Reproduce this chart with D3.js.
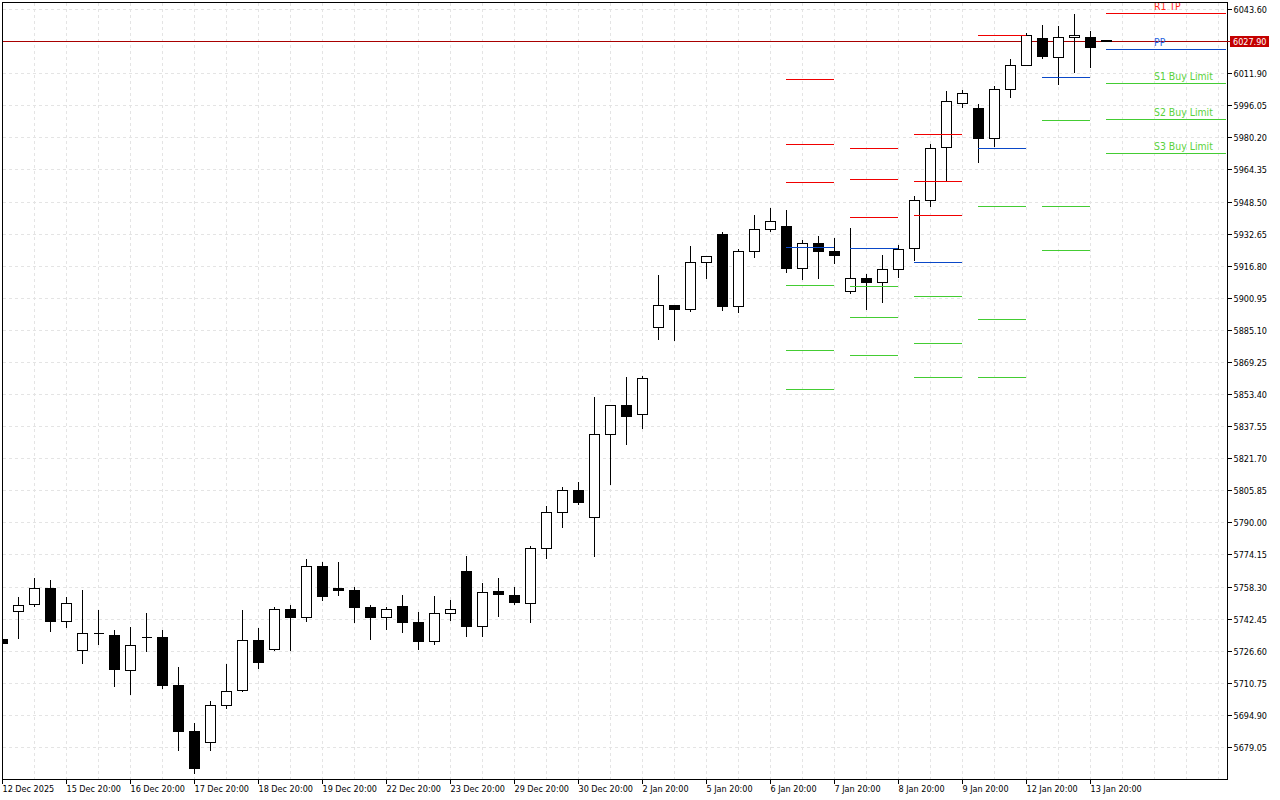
<!DOCTYPE html>
<html>
  <head>
    <meta charset="utf-8" />
    <script src="https://cdn.jsdelivr.net/npm/d3@7/dist/d3.min.js"></script>
    <style>
      body {
        margin: 0;
        background: #fff;
      }
      svg {
        display: block;
      }
      text {
        font-family: "DejaVu Sans Condensed", "DejaVu Sans", sans-serif;
        font-stretch: condensed;
      }
    </style>
  </head>
  <body>
    <svg id="chart" width="1280" height="800"></svg>
    <script>
      // candles, one per 6h bar, oldest first
      const opens = [
        5732.4, 5746.3, 5749.8, 5757.7, 5741.4, 5727.1, 5735.5, 5734.5, 5717.2, 5733.5,
        5733.5, 5709.8, 5687.1, 5681.6, 5699.9, 5707.1, 5732.0, 5727.6, 5747.3, 5743.4,
        5768.6, 5757.7, 5756.7, 5748.3, 5743.2, 5748.8, 5740.9, 5731.2, 5745.3, 5766.2,
        5738.9, 5755.9, 5753.9, 5750.3, 5777.5, 5795.2, 5806.1, 5792.8, 5833.8, 5848.1,
        5843.6, 5886.6, 5897.5, 5895.5, 5918.7, 5932.6, 5897.0, 5924.2, 5935.0, 5936.5,
        5915.8, 5928.1, 5924.2, 5904.4, 5910.8, 5908.9, 5915.3, 5925.6, 5949.4, 5975.5,
        5997.3, 5994.5, 5980.0, 6004.2, 6016.0, 6029.4, 6020.0, 6029.9, 6029.9, 6028.4
      ];
      const highs = [
        5732.4, 5753.4, 5762.8, 5761.8, 5753.4, 5756.9, 5747.0, 5737.1, 5738.6, 5745.5,
        5737.1, 5719.3, 5691.2, 5702.5, 5720.3, 5747.0, 5738.1, 5748.5, 5749.9, 5772.2,
        5770.7, 5770.7, 5758.8, 5749.9, 5748.5, 5754.4, 5746.0, 5753.9, 5752.4, 5774.1,
        5760.8, 5762.8, 5758.8, 5778.6, 5798.8, 5808.2, 5810.2, 5852.2, 5848.1, 5862.1,
        5862.6, 5912.5, 5897.5, 5926.8, 5921.7, 5933.7, 5925.3, 5942.1, 5945.6, 5944.6,
        5930.2, 5932.2, 5931.2, 5935.7, 5913.0, 5922.8, 5927.3, 5951.5, 5977.2, 6003.8,
        6004.3, 5997.3, 6006.3, 6019.2, 6032.0, 6036.4, 6035.5, 6041.4, 6033.0, 6028.4
      ];
      const lows = [
        5730.4, 5732.8, 5748.6, 5736.3, 5738.2, 5720.5, 5729.8, 5709.1, 5705.1, 5726.4,
        5708.1, 5677.5, 5666.1, 5677.5, 5698.2, 5706.6, 5718.0, 5726.9, 5726.9, 5741.2,
        5751.6, 5754.0, 5740.7, 5732.3, 5737.2, 5735.8, 5727.4, 5729.7, 5741.7, 5733.8,
        5733.8, 5743.7, 5749.6, 5740.7, 5772.3, 5787.6, 5799.0, 5773.3, 5808.9, 5828.6,
        5836.5, 5880.5, 5880.0, 5894.3, 5910.6, 5894.8, 5893.8, 5921.0, 5933.8, 5913.6,
        5910.1, 5910.6, 5918.0, 5903.2, 5895.3, 5898.8, 5911.1, 5919.5, 5946.2, 5958.9,
        5995.3, 5967.9, 5975.8, 6000.0, 6016.0, 6019.3, 6006.5, 6012.4, 6014.9, 6027.6
      ];
      const closes = [
        5730.4, 5749.3, 5757.7, 5741.2, 5750.3, 5735.5, 5735.5, 5717.5, 5729.5, 5733.5,
        5709.6, 5686.9, 5668.6, 5699.9, 5706.8, 5732.0, 5720.9, 5747.3, 5743.2, 5768.6,
        5753.5, 5756.5, 5748.1, 5743.2, 5747.3, 5740.7, 5731.3, 5745.3, 5747.3, 5738.7,
        5755.7, 5754.5, 5750.6, 5777.5, 5795.2, 5806.1, 5800.0, 5833.8, 5848.1, 5842.5,
        5861.4, 5897.5, 5895.3, 5918.7, 5921.7, 5896.8, 5924.2, 5935.0, 5939.0, 5915.6,
        5928.1, 5924.0, 5922.0, 5910.8, 5908.7, 5915.3, 5925.2, 5949.4, 5975.0, 5998.4,
        6002.2, 5979.8, 6004.2, 6016.0, 6030.9, 6020.3, 6029.9, 6030.9, 6024.7, 6027.9
      ];

      // pivot levels, each segment runs from bar levelStarts[k] to levelEnds[k]
      const levelStarts = [49, 53, 57, 61, 65, 69];
      const levelEnds = [52, 56, 60, 64, 68, 76.5];
      const redLevels = [
        [6009.1, 5977.0, 5958.2],
        [5975.0, 5959.7, 5941.0],
        [5982.0, 5958.7, 5941.9],
        [6030.9],
        [],
        [6041.7]
      ];
      const blueLevels = [5926.1, 5925.6, 5918.7, 5975.0, 6010.1, 6023.9];
      const greenLevels = [
        [5907.4, 5875.3, 5856.0],
        [5906.9, 5891.6, 5872.8],
        [5901.9, 5878.7, 5861.9],
        [5946.5, 5890.7, 5861.9],
        [5988.9, 5946.4, 5924.7],
        [6007.2, 5989.4, 5972.6]
      ];

      const levelLabels = ["R1 TP", "PP", "S1 Buy Limit", "S2 Buy Limit", "S3 Buy Limit"];
      const levelLabelColors = ["#ff2a1a", "#1f62e0", "#5ad23c", "#5ad23c", "#5ad23c"];
      const levelLabelBaselines = [10, 46, 80, 116, 150];

      const lastPrice = 6027.9;

      const priceTicks = [
        6043.6, 6011.9, 5996.05, 5980.2, 5964.35, 5948.5, 5932.65, 5916.8,
        5900.95, 5885.1, 5869.25, 5853.4, 5837.55, 5821.7, 5805.85, 5790.0,
        5774.15, 5758.3, 5742.45, 5726.6, 5710.75, 5694.9, 5679.05
      ];
      // bar index of every date label
      const timeTickBars = [0, 4, 8, 12, 16, 20, 24, 28, 32, 36, 40, 44, 48, 52, 56, 60, 64, 68];
      const timeTickLabels = [
        "12 Dec 2025", "15 Dec 20:00", "16 Dec 20:00", "17 Dec 20:00", "18 Dec 20:00",
        "19 Dec 20:00", "22 Dec 20:00", "23 Dec 20:00", "29 Dec 20:00", "30 Dec 20:00",
        "2 Jan 20:00", "5 Jan 20:00", "6 Jan 20:00", "7 Jan 20:00", "8 Jan 20:00",
        "9 Jan 20:00", "12 Jan 20:00", "13 Jan 20:00"
      ];

      const plotLeft = 2,
        plotTop = 2,
        plotRight = 1227,
        plotBottom = 779;

      const x = d3.scaleLinear().domain([0, 76]).range([2.5, 1218.5]);
      const y = d3.scaleLinear().domain([5679.05, 6043.6]).range([747.5, 9.5]);

      // land on the pixel row so 1px lines stay sharp
      const py = v => Math.floor(y(v)) + 0.5;

      const svg = d3.select("#chart");

      svg
        .append("defs")
        .append("clipPath")
        .attr("id", "plot")
        .append("rect")
        .attr("x", plotLeft + 1)
        .attr("y", plotTop + 1)
        .attr("width", plotRight - plotLeft - 1)
        .attr("height", plotBottom - plotTop - 1);

      const plot = svg
        .append("g")
        .attr("clip-path", "url(#plot)")
        .attr("shape-rendering", "crispEdges");

      // grid
      const grid = plot
        .append("g")
        .attr("stroke", "#e4e4e4")
        .attr("stroke-dasharray", "3,3");

      grid
        .selectAll("line.h")
        .data(priceTicks)
        .enter()
        .append("line")
        .attr("class", "h")
        .attr("x1", plotLeft + 1)
        .attr("x2", plotRight)
        .attr("y1", py)
        .attr("y2", py);

      grid
        .selectAll("line.v")
        .data(d3.range(2, 77, 2))
        .enter()
        .append("line")
        .attr("class", "v")
        .attr("x1", x)
        .attr("x2", x)
        .attr("y1", plotTop + 1)
        .attr("y2", plotBottom);

      // last price sits under the candles
      plot
        .append("line")
        .attr("x1", plotLeft)
        .attr("x2", plotRight)
        .attr("y1", py(lastPrice))
        .attr("y2", py(lastPrice))
        .attr("stroke", "#a80000");

      const bars = d3.range(opens.length);

      const candle = plot
        .selectAll("g.candle")
        .data(bars)
        .enter()
        .append("g")
        .attr("class", "candle");

      candle
        .append("line")
        .attr("x1", x)
        .attr("x2", x)
        .attr("y1", i => py(highs[i]))
        .attr("y2", i => py(lows[i]))
        .attr("stroke", "#000");

      candle
        .append("path")
        .attr("d", i => {
          const y0 = py(Math.max(opens[i], closes[i])),
            y1 = py(Math.min(opens[i], closes[i]));
          return `M${x(i) - 5},${y0}H${x(i) + 5}V${y1}H${x(i) - 5}Z`;
        })
        .attr("fill", i => (closes[i] < opens[i] ? "#000" : "#fff"))
        .attr("stroke", "#000");

      // levels go over the candles
      function drawLevels(values, color) {
        plot
          .append("g")
          .selectAll("line")
          .data(values)
          .enter()
          .append("line")
          .attr("x1", d => x(levelStarts[d.k]) - 0.5)
          .attr("x2", d => x(levelEnds[d.k]) - 0.5)
          .attr("y1", d => py(d.v))
          .attr("y2", d => py(d.v))
          .attr("stroke", color);
      }

      const flatten = rows => rows.flatMap((r, k) => r.map(v => ({ k, v })));

      drawLevels(flatten(redLevels), "#f00000");
      drawLevels(blueLevels.map((v, k) => ({ k, v })), "#0a48c8");
      drawLevels(flatten(greenLevels), "#44cc33");

      plot
        .append("g")
        .selectAll("text")
        .data(levelLabels)
        .enter()
        .append("text")
        .attr("x", x(72) - 0.5)
        .attr("y", (d, i) => levelLabelBaselines[i])
        .attr("font-size", 10.4)
        .attr("fill", (d, i) => levelLabelColors[i])
        .attr("shape-rendering", "auto")
        .text(d => d);

      // frame
      svg
        .append("rect")
        .attr("x", plotLeft + 0.5)
        .attr("y", plotTop + 0.5)
        .attr("width", plotRight - plotLeft)
        .attr("height", plotBottom - plotTop)
        .attr("fill", "none")
        .attr("stroke", "#000")
        .attr("shape-rendering", "crispEdges");

      // price axis
      const yAxis = d3
        .axisRight(y)
        .tickValues(priceTicks)
        .tickSize(4)
        .tickPadding(2)
        .tickFormat(d3.format(".2f"));

      const yAxisG = svg
        .append("g")
        .attr("transform", `translate(${plotRight + 0.5},0)`)
        .call(yAxis);

      yAxisG.select(".domain").remove();
      yAxisG.selectAll(".tick").attr("transform", d => `translate(0,${py(d)})`);
      yAxisG
        .selectAll(".tick line")
        .attr("stroke", "#000")
        .attr("shape-rendering", "crispEdges");
      yAxisG
        .selectAll(".tick text")
        .attr("dy", 3)
        .attr("fill", "#000")
        .attr("font-size", 9);
      yAxisG.attr("font-family", null).attr("font-size", null);

      // time axis
      const xAxis = d3
        .axisBottom(x)
        .tickValues(timeTickBars)
        .tickSize(4)
        .tickFormat((d, i) => timeTickLabels[i]);

      const xAxisG = svg
        .append("g")
        .attr("transform", `translate(0,${plotBottom + 0.5})`)
        .call(xAxis);

      xAxisG.select(".domain").remove();
      xAxisG.selectAll(".tick").attr("transform", d => `translate(${x(d)},0)`);
      xAxisG
        .selectAll(".tick line")
        .attr("stroke", "#000")
        .attr("shape-rendering", "crispEdges");
      xAxisG
        .selectAll(".tick text")
        .attr("text-anchor", "start")
        .attr("x", 0)
        .attr("y", 12)
        .attr("dy", 0)
        .attr("fill", "#000")
        .attr("font-size", 9);
      xAxisG.attr("font-family", null).attr("font-size", null);

      // last price tag
      svg
        .append("rect")
        .attr("x", 1230)
        .attr("y", 36)
        .attr("width", 39)
        .attr("height", 11)
        .attr("fill", "#c40000");

      svg
        .append("line")
        .attr("x1", plotRight)
        .attr("x2", 1230)
        .attr("y1", py(lastPrice))
        .attr("y2", py(lastPrice))
        .attr("stroke", "#a80000")
        .attr("shape-rendering", "crispEdges");

      svg
        .append("text")
        .attr("x", 1233)
        .attr("y", 45)
        .attr("font-size", 9)
        .attr("fill", "#fff")
        .text(d3.format(".2f")(lastPrice));
    </script>
  </body>
</html>
